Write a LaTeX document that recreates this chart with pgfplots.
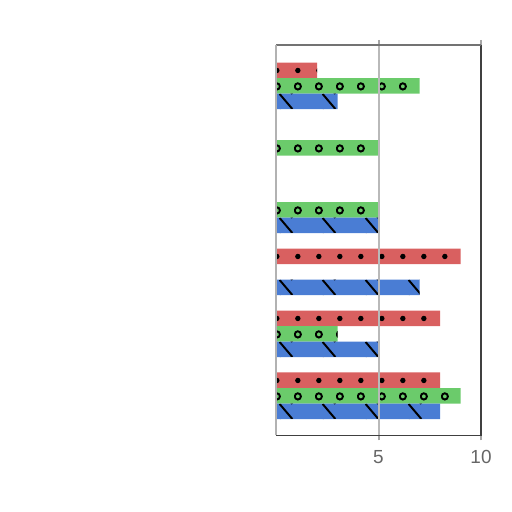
\documentclass[border=0pt]{standalone}
\usepackage{pgfplots}
\pgfplotsset{compat=1.18}
\usepackage{fontspec}
\setmainfont{Liberation Sans}
\usetikzlibrary{patterns.meta}

\definecolor{barred}{HTML}{D96060}
\definecolor{bargreen}{HTML}{6BCB6B}
\definecolor{barblue}{HTML}{4A7DD4}

% fill patterns; each tile is two bars tall (15.5bp = 31px)
\tikzdeclarepattern{
  name=bigdots, type=uncolored,
  bounding box={(0bp,0bp) and (10.5bp,15.5bp)},
  tile size={(10.5bp,15.5bp)},
  code={\pgfpathcircle{\pgfpoint{2bp}{3.875bp}}{1.4bp}
        \pgfpathcircle{\pgfpoint{2bp}{11.625bp}}{1.4bp}\pgfusepath{fill}}
}
\tikzdeclarepattern{
  name=rings, type=uncolored,
  bounding box={(0bp,0bp) and (10.5bp,15.5bp)},
  tile size={(10.5bp,15.5bp)},
  code={\pgfsetlinewidth{1bp}
        \pgfpathcircle{\pgfpoint{2bp}{3.875bp}}{1.6bp}
        \pgfpathcircle{\pgfpoint{2bp}{11.625bp}}{1.6bp}\pgfusepath{stroke}}
}
\tikzdeclarepattern{
  name=slashes, type=uncolored,
  bounding box={(0bp,0bp) and (21.5bp,15.5bp)},
  tile size={(21.5bp,15.5bp)},
  code={\pgfsetlinewidth{1bp}
        \pgfpathmoveto{\pgfpoint{11bp}{7.75bp}}\pgfpathlineto{\pgfpoint{17.5bp}{0bp}}
        \pgfpathmoveto{\pgfpoint{11bp}{15.5bp}}\pgfpathlineto{\pgfpoint{17.5bp}{7.75bp}}
        \pgfusepath{stroke}}
}

\begin{document}
\begin{tikzpicture}
\useasboundingbox (0,0) rectangle (256bp,256bp);
\begin{axis}[
    name=ax,
    at={(138bp,38.285bp)}, anchor=south west,
    scale only axis,
    width=102.5bp, height=195.3bp,
    xmin=0, xmax=10,
    ymin=-0.64, ymax=5.66,
    xtick={5,10}, ytick=\empty,
    xmajorgrids,
    grid style={gray!55, line width=1bp},
    axis on top,
    axis line style={draw=none},
    tick align=outside,
    major tick length=2.5bp,
    xtick style={gray!70, line width=1bp},
    xticklabel style={text=gray!80!black, font=\fontsize{9.5}{10}\selectfont, yshift=-1.5bp},
    /pgf/number format/assume math mode=true,
    xbar, bar width=7.75bp,
]
\addplot[xbar, bar shift=7.75bp, fill=barred, draw=none,
    postaction={pattern=bigdots, pattern color=black}]
    coordinates {(8,0) (8,1) (9,2) (0,3) (0,4) (2,5)};
\addplot[xbar, bar shift=0bp, fill=bargreen, draw=none,
    postaction={pattern=rings, pattern color=black}]
    coordinates {(9,0) (3,1) (0,2) (5,3) (5,4) (7,5)};
\addplot[xbar, bar shift=-7.75bp, fill=barblue, draw=none,
    postaction={pattern=slashes, pattern color=black}]
    coordinates {(8,0) (5,1) (7,2) (5,3) (0,4) (3,5)};
\end{axis}
\draw[black!75, line width=0.9bp] (ax.south west) -- (ax.south east) -- (ax.north east);
\draw[black!55, line width=0.9bp] (ax.north east) -- (ax.north west);
\draw[gray!60, line width=1bp] (ax.south west) -- (ax.north west);
\end{tikzpicture}
\end{document}
